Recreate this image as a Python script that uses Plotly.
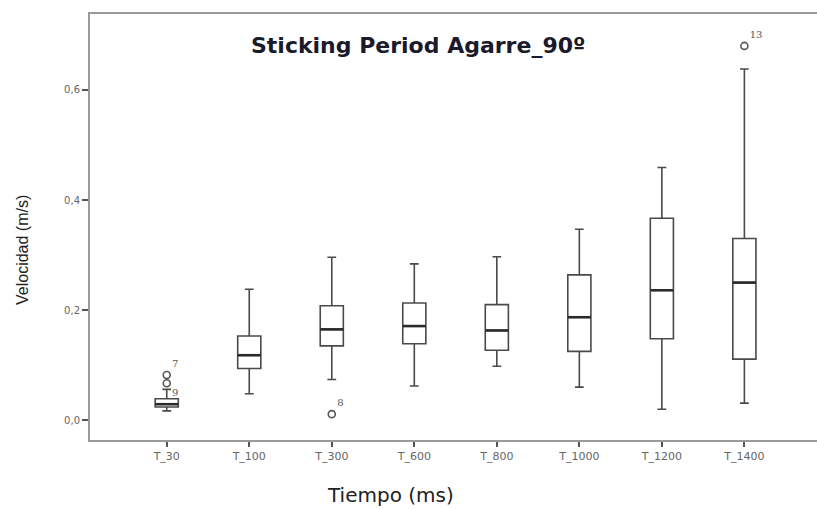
import plotly.graph_objects as go

categories = ["T_30", "T_100", "T_300", "T_600", "T_800", "T_1000", "T_1200", "T_1400"]
q1 = [0.024, 0.094, 0.135, 0.139, 0.127, 0.125, 0.148, 0.111]
median = [0.029, 0.118, 0.165, 0.171, 0.163, 0.187, 0.236, 0.250]
q3 = [0.039, 0.153, 0.208, 0.213, 0.210, 0.264, 0.367, 0.330]
low_whisker = [0.017, 0.048, 0.074, 0.062, 0.098, 0.060, 0.020, 0.031]
high_whisker = [0.056, 0.238, 0.296, 0.284, 0.297, 0.347, 0.459, 0.638]

outlier_cat = ["T_30", "T_30", "T_300", "T_1400"]
outlier_val = [0.082, 0.067, 0.011, 0.680]
outlier_lab = ["7", "9", "8", "13"]

y_ticks = [0.0, 0.2, 0.4, 0.6]
y_tick_labels = ["0,0", "0,2", "0,4", "0,6"]

pos = list(range(len(categories)))
box_w = 0.28
line_col = "#4a4a4a"
axis_col = "#9a9a9a"

fig = go.Figure()
fig.add_trace(go.Box(
    x=pos, q1=q1, median=median, q3=q3,
    lowerfence=low_whisker, upperfence=high_whisker,
    width=box_w, whiskerwidth=0.38,
    fillcolor="white", line=dict(color=line_col, width=1.6),
    boxpoints=False, showlegend=False, hoverinfo="skip",
))

# thicker median lines
mx, my = [], []
for i, m in zip(pos, median):
    mx += [i - box_w / 2, i + box_w / 2, None]
    my += [m, m, None]
fig.add_trace(go.Scatter(x=mx, y=my, mode="lines",
                         line=dict(color="#2a2a2a", width=2.6),
                         showlegend=False, hoverinfo="skip"))

# outliers
ox = [categories.index(c) for c in outlier_cat]
fig.add_trace(go.Scatter(
    x=ox, y=outlier_val, mode="markers+text",
    marker=dict(symbol="circle-open", size=7, color="#555555", line=dict(width=1.6)),
    text=outlier_lab, textposition=["top right", "bottom right", "top right", "top right"],
    textfont=dict(family="DejaVu Serif", size=10, color="#555555"),
    showlegend=False, hoverinfo="skip",
))

fig.update_layout(
    width=817, height=509,
    margin=dict(l=90, r=0, t=14, b=69),
    paper_bgcolor="white", plot_bgcolor="white",
    font=dict(family="DejaVu Sans", color="#222222"),
    xaxis=dict(
        range=[-0.93, 7.88], tickvals=pos, ticktext=categories,
        showgrid=False, zeroline=False,
        showline=True, linecolor=axis_col, linewidth=2, mirror=True,
        ticks="outside", ticklen=5, tickwidth=1.5, tickcolor="#555555",
        tickfont=dict(size=11, color="#666666", family="DejaVu Sans"),
    ),
    yaxis=dict(
        range=[-0.036, 0.738], tickvals=y_ticks, ticktext=y_tick_labels,
        showgrid=False, zeroline=False,
        showline=True, linecolor=axis_col, linewidth=2,
        ticks="outside", ticklen=6, tickwidth=1.5, tickcolor="#555555",
        tickfont=dict(size=10, color="#666666", family="DejaVu Sans"),
    ),
    annotations=[
        dict(text="<b>Sticking Period Agarre_90º</b>", xref="paper", yref="paper",
             x=(418 - 90) / 727, y=(440 - 45) / 426, xanchor="center", yanchor="middle",
             showarrow=False, font=dict(size=22, family="DejaVu Sans", color="#1a1a2a")),
        dict(text="Tiempo (ms)", xref="paper", yref="paper",
             x=(390 - 90) / 727, y=(440 - 495) / 426, xanchor="center", yanchor="middle",
             showarrow=False, font=dict(size=20, family="DejaVu Sans", color="#222222")),
        dict(text="Velocidad (m/s)", xref="paper", yref="paper", textangle=-90,
             x=(22 - 90) / 727, y=(440 - 250) / 426, xanchor="center", yanchor="middle",
             showarrow=False, font=dict(size=16, family="Liberation Sans", color="#222222")),
    ],
)

fig.write_html("out.html")
